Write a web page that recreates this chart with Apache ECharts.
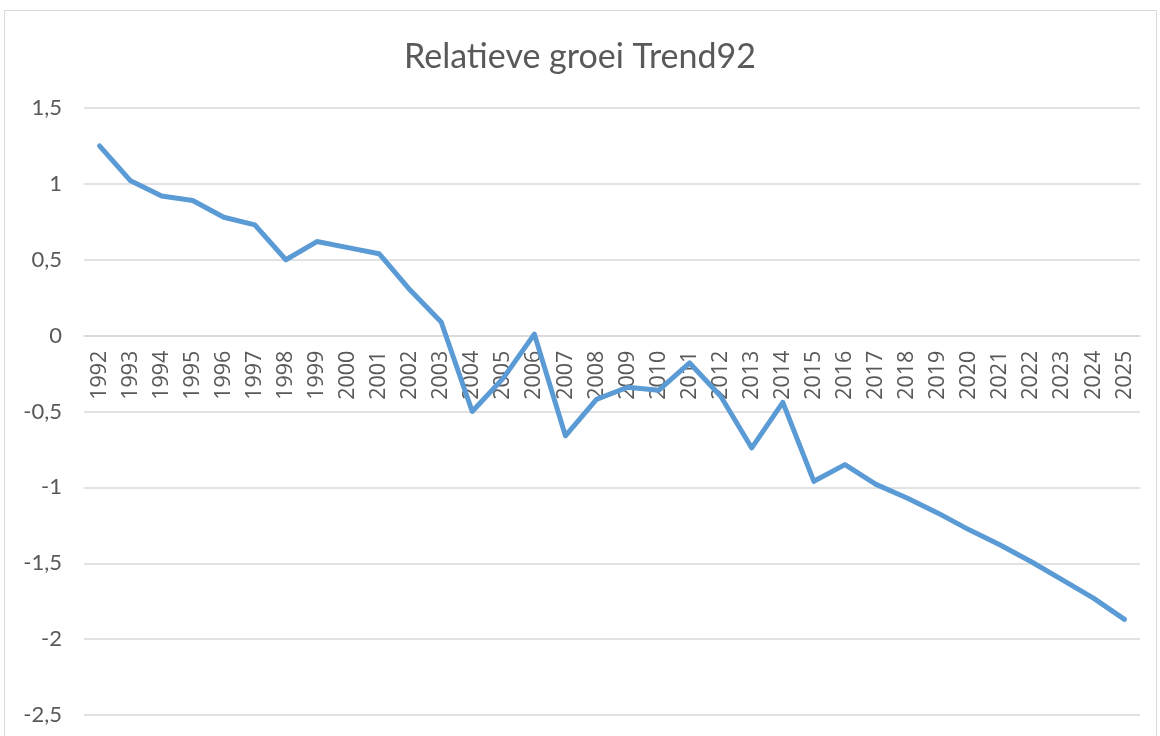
<!DOCTYPE html>
<html>
<head>
<meta charset="utf-8">
<script src="https://cdn.jsdelivr.net/npm/echarts@6/dist/echarts.min.js"></script>
<style>
html,body{margin:0;padding:0;background:#fff;}
#frame{position:absolute;left:4px;top:10px;width:1153px;height:740px;border:1px solid #d9d9d9;box-sizing:border-box;}
#chart{position:absolute;left:0;top:0;width:1160px;height:736px;}
</style>
</head>
<body>
<div id="frame"></div>
<div id="chart"></div>
<script>
const title = "Relatieve groei Trend92";
const years = ["1992","1993","1994","1995","1996","1997","1998","1999","2000","2001","2002","2003","2004","2005","2006","2007","2008","2009","2010","2011","2012","2013","2014","2015","2016","2017","2018","2019","2020","2021","2022","2023","2024","2025"];
const values = [1.25,1.02,0.92,0.89,0.78,0.73,0.50,0.62,0.58,0.54,0.30,0.09,-0.50,-0.28,0.01,-0.66,-0.42,-0.34,-0.36,-0.18,-0.40,-0.74,-0.44,-0.96,-0.85,-0.98,-1.07,-1.17,-1.28,-1.38,-1.49,-1.61,-1.73,-1.87];
const yMin = -2.5, yMax = 1.5, yStep = 0.5;

const gridTop = 108, gridBottom = 21, H = 736;
const plotH = H - gridTop - gridBottom;
const zeroOffset = -plotH * (0 - yMin) / (yMax - yMin);

const chart = echarts.init(document.getElementById('chart'), null, {renderer:'canvas'});
chart.setOption({
  animation:false,
  backgroundColor:'transparent',
  title:{
    text:title, left:'center', top:35,
    textStyle:{fontFamily:'Lato', fontSize:34, fontWeight:'normal', color:'#595959'}
  },
  grid:{left:84, right:20, top:gridTop, bottom:gridBottom, containLabel:false, outerBoundsMode:'none'},
  xAxis:{
    type:'category', data:years, boundaryGap:true, position:'bottom', offset:zeroOffset,
    axisLine:{show:true, onZero:false, lineStyle:{color:'#d9d9d9', width:1.5}},
    axisTick:{show:false},
    axisLabel:{rotate:90, margin:15, interval:0, hideOverlap:false, fontFamily:'Open Sans', fontSize:21.5, color:'#595959'}
  },
  yAxis:{
    type:'value', min:yMin, max:yMax, interval:yStep,
    axisLine:{show:false}, axisTick:{show:false},
    splitLine:{lineStyle:{color:'#d9d9d9', width:1.5}},
    axisLabel:{margin:22, fontFamily:'Lato', fontSize:22, color:'#595959',
      formatter:v => String(v).replace('.', ',')}
  },
  series:[{
    type:'line', data:values, showSymbol:false, symbol:'none',
    lineStyle:{color:'#5b9bd5', width:5, cap:'round', join:'round'}
  }]
});
</script>
</body>
</html>
